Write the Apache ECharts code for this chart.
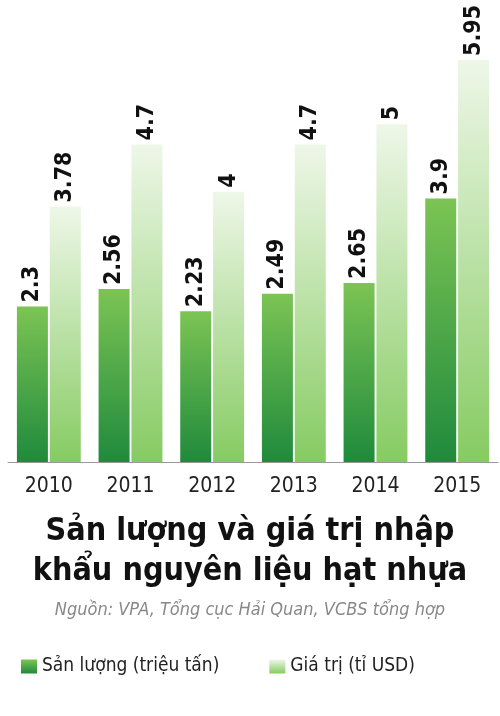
<!DOCTYPE html><html><head><meta charset="utf-8">
<script src="https://cdn.jsdelivr.net/npm/echarts@6/dist/echarts.min.js"></script>
<style>body{margin:0;background:#fff}#c{width:500px;height:716px}</style></head><body><div id="c"></div>
<script>
var years=['2010','2011','2012','2013','2014','2015'];
var sanLuong=[2.3,2.56,2.23,2.49,2.65,3.9];
var giaTri=[3.78,4.7,4,4.7,5,5.95];
var F='"DejaVu Sans Condensed","DejaVu Sans"';
var c=echarts.init(document.getElementById('c'));
var lab={show:true,position:'top',rotate:90,align:'left',verticalAlign:'middle',distance:4,color:'#111',fontFamily:F,fontWeight:'bold',fontSize:23};
c.setOption({
 animation:false,
 grid:{left:8,right:2,top:60,height:402},
 xAxis:{type:'category',data:years,axisTick:{show:false},axisLine:{lineStyle:{color:'#999',width:1}},
  axisLabel:{color:'#222',fontFamily:F,fontSize:21,margin:14}},
 yAxis:{type:'value',min:0,max:5.95,show:false,splitLine:{show:false}},
 title:[{text:'Sản lượng và giá trị nhập\nkhẩu nguyên liệu hạt nhựa',left:'center',top:507,textStyle:{fontFamily:F,fontWeight:'bold',fontSize:32,lineHeight:40,color:'#111'}},
  {text:'Nguồn: VPA, Tổng cục Hải Quan, VCBS tổng hợp',left:'center',top:596,textStyle:{fontFamily:F,fontStyle:'italic',fontWeight:'normal',fontSize:18,color:'#888'}}],
 legend:{top:652,left:16,itemGap:50,itemWidth:16,itemHeight:14,textStyle:{fontFamily:F,fontSize:19,color:'#222'},icon:'rect'},
 series:[
  {name:'Sản lượng (triệu tấn)',type:'bar',data:sanLuong,barWidth:31,barGap:'6%',label:lab,
   itemStyle:{color:new echarts.graphic.LinearGradient(0,0,0,1,[{offset:0,color:'#7cc454'},{offset:1,color:'#1f8a3c'}])}},
  {name:'Giá trị (tỉ USD)',type:'bar',data:giaTri,barWidth:31,label:lab,
   itemStyle:{color:new echarts.graphic.LinearGradient(0,0,0,1,[{offset:0,color:'#eef7e8'},{offset:1,color:'#86cb62'}])}}
 ]});
</script></body></html>
